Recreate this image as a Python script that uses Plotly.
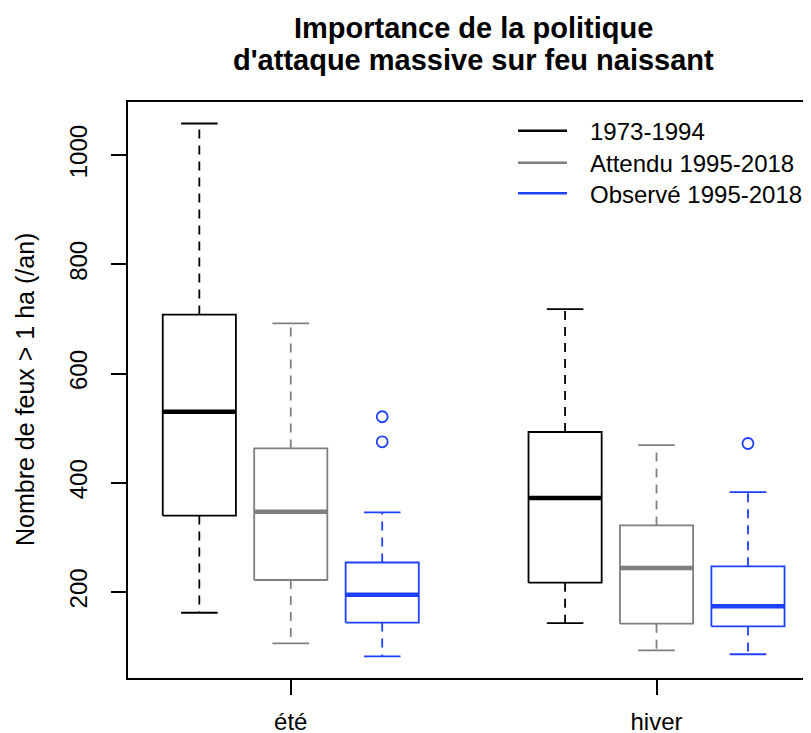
import plotly.graph_objects as go

seasons = ["été", "hiver"]
periods = ["1973-1994", "Attendu 1995-2018", "Observé 1995-2018"]
colors = ["#000000", "#7f7f7f", "#1e40ff"]

# one row per period, one column per season (été, hiver)
whisker_low = [[162, 143], [106, 93], [82, 86]]
q1 = [[340, 217], [222, 142], [144, 137]]
median = [[530, 372], [347, 244], [195, 174]]
q3 = [[708, 493], [463, 322], [254, 247]]
whisker_high = [[1058, 718], [692, 469], [346, 383]]
outliers = [[[], []], [[], []], [[521, 475], [472]]]

yticks = [200, 400, 600, 800, 1000]

FONT = "Liberation Sans, Arial, sans-serif"
BOX_W = 0.4      # half box width (x units)
CAP_W = 0.2      # half staple width

# the page body keeps its default 8px margin, so the figure is drawn
# 8px smaller and everything is placed in page pixels minus that offset
OFF = 8
W, H = 811 - OFF, 733 - OFF
L, T = 128 - OFF, 102 - OFF
B = H - (678 - OFF)
PW, PH = W - L, H - T - B


def px_x(x):
    return (x - OFF - L) / PW


def px_y(y):
    return (H - B - (y - OFF)) / PH


fig = go.Figure()

for i, period in enumerate(periods):
    col = colors[i]
    bx, by, mx, my, wx, wy, cx, cy, ox, oy = ([] for _ in range(10))
    for j, season in enumerate(seasons):
        p = j * 4 + i + 1
        bx += [p - BOX_W, p + BOX_W, p + BOX_W, p - BOX_W, p - BOX_W, None]
        by += [q1[i][j], q1[i][j], q3[i][j], q3[i][j], q1[i][j], None]
        mx += [p - BOX_W, p + BOX_W, None]
        my += [median[i][j], median[i][j], None]
        wx += [p, p, None, p, p, None]
        wy += [q3[i][j], whisker_high[i][j], None, q1[i][j], whisker_low[i][j], None]
        cx += [p - CAP_W, p + CAP_W, None, p - CAP_W, p + CAP_W, None]
        cy += [whisker_high[i][j], whisker_high[i][j], None,
               whisker_low[i][j], whisker_low[i][j], None]
        ox += [p] * len(outliers[i][j])
        oy += outliers[i][j]

    fig.add_trace(go.Scatter(x=wx, y=wy, mode="lines", showlegend=False,
                             line=dict(color=col, width=1.8, dash="9px,7px")))
    fig.add_trace(go.Scatter(x=cx, y=cy, mode="lines", showlegend=False,
                             line=dict(color=col, width=1.8)))
    fig.add_trace(go.Scatter(x=bx, y=by, mode="lines", showlegend=False,
                             line=dict(color=col, width=1.8)))
    fig.add_trace(go.Scatter(x=mx, y=my, mode="lines", showlegend=False,
                             line=dict(color=col, width=4.5)))
    if ox:
        fig.add_trace(go.Scatter(x=ox, y=oy, mode="markers", showlegend=False,
                                 marker=dict(symbol="circle-open", size=11,
                                             color=col, line=dict(width=1.8))))

# legend drawn by hand (R style: long line samples, no frame)
shapes = []
annotations = []
legend_rows = [130.7, 162.7, 193.3]
for i, period in enumerate(periods):
    shapes.append(dict(type="line", xref="paper", yref="paper",
                       x0=px_x(518), x1=px_x(567),
                       y0=px_y(legend_rows[i]), y1=px_y(legend_rows[i]),
                       line=dict(color=colors[i], width=2.5)))
    annotations.append(dict(text=period, xref="paper", yref="paper",
                            x=px_x(588), y=px_y(legend_rows[i] + 1),
                            xanchor="left", yanchor="middle", showarrow=False,
                            font=dict(family=FONT, size=24, color="black")))

# two-line bold title centred on the plot region
title_lines = ["Importance de la politique", "d'attaque massive sur feu naissant"]
for k, line in enumerate(title_lines):
    annotations.append(dict(text=line, xref="paper", yref="paper",
                            x=px_x(473.4), y=px_y(28.5 + 31.5 * k),
                            xanchor="center", yanchor="middle", showarrow=False,
                            font=dict(family=FONT, size=29, color="black",
                                      weight="bold")))

annotations.append(dict(text="Nombre de feux > 1 ha (/an)", xref="paper",
                        yref="paper", x=px_x(25), y=0.5, textangle=-90,
                        xanchor="center", yanchor="middle", showarrow=False,
                        font=dict(family=FONT, size=25, color="black")))

fig.update_layout(
    width=W,
    height=H,
    margin=dict(l=L, r=0, t=T, b=B),
    plot_bgcolor="white",
    paper_bgcolor="white",
    showlegend=False,
    shapes=shapes,
    annotations=annotations,
    xaxis=dict(range=[0.22, 0.22 + PW / 91.44], tickvals=[2, 6],
               ticktext=seasons, ticks="outside", ticklen=15, tickwidth=1.8,
               tickcolor="black", showline=True, linewidth=1.8,
               linecolor="black", mirror=True, showgrid=False, zeroline=False,
               automargin=False, ticklabelstandoff=6,
               tickfont=dict(family=FONT, size=24, color="black")),
    yaxis=dict(range=[42.5, 1097.4], tickvals=yticks, tickangle=-90,
               ticks="outside", ticklen=15, tickwidth=1.8, tickcolor="black",
               showline=True, linewidth=1.8, linecolor="black", mirror=False,
               showgrid=False, zeroline=False, automargin=False,
               ticklabelstandoff=15,
               tickfont=dict(family=FONT, size=24, color="black")),
)

fig.write_html("out.html")
